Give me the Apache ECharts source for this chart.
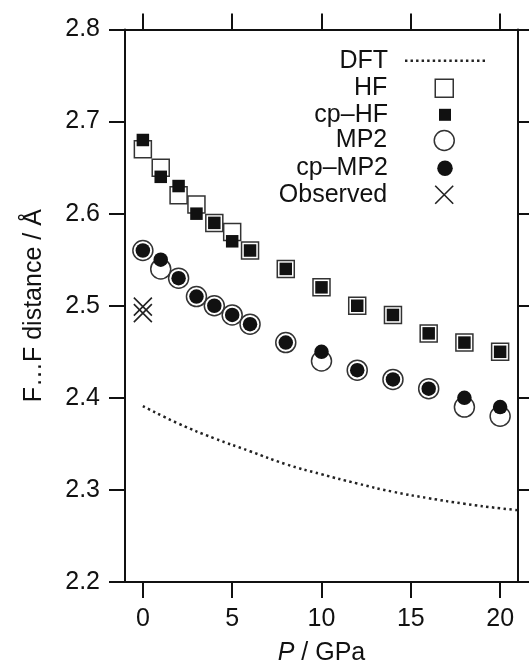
<!DOCTYPE html>
<html>
<head>
<meta charset="utf-8">
<script src="https://cdn.jsdelivr.net/npm/echarts@6/dist/echarts.min.js"></script>
<style>html,body{margin:0;padding:0;background:#fff;}#c{width:529px;height:671px;}</style>
</head>
<body>
<div id="c"></div>
<script>
// ---- data ----
const P = [0, 1, 2, 3, 4, 5, 6, 8, 10, 12, 14, 16, 18, 20];
const hf = [2.67, 2.65, 2.62, 2.61, 2.59, 2.58, 2.56, 2.54, 2.52, 2.50, 2.49, 2.47, 2.46, 2.45];
const cpHf = [2.68, 2.64, 2.63, 2.60, 2.59, 2.57, 2.56, 2.54, 2.52, 2.50, 2.49, 2.47, 2.46, 2.45];
const mp2 = [2.56, 2.54, 2.53, 2.51, 2.50, 2.49, 2.48, 2.46, 2.44, 2.43, 2.42, 2.41, 2.39, 2.38];
const cpMp2 = [2.56, 2.55, 2.53, 2.51, 2.50, 2.49, 2.48, 2.46, 2.45, 2.43, 2.42, 2.41, 2.40, 2.39];
const dftP = [0, 2, 4, 6, 8, 10, 12, 14, 16, 18, 20, 21];
const dft = [2.391, 2.372, 2.356, 2.342, 2.328, 2.317, 2.307, 2.298, 2.291, 2.285, 2.280, 2.278];
const obsP = [0, 0];
const obs = [2.499, 2.492];
const xTicks = [0, 5, 10, 15, 20];
const seriesNames = ['DFT', 'HF', 'cp\u2013HF', 'MP2', 'cp\u2013MP2', 'Observed'];

const pair = (xs, ys) => xs.map((x, i) => [x, ys[i]]);
const FONT = "'Liberation Sans', Arial, Helvetica, sans-serif";
const crossPath = 'path://M0,0L20,20M20,0L0,20';
let dots = '';
for (let x = 0; x < 80; x += 5.5) dots += 'M' + x + ',0h2.4v2.4h-2.4z';
const dotPath = 'path://' + dots;

const chart = echarts.init(document.getElementById('c'), null, {renderer: 'canvas'});

const axisCommon = {
  axisLine: {show: true, onZero: false, lineStyle: {color: '#111', width: 2}},
  axisTick: {show: true, inside: false, length: 16, lineStyle: {color: '#111', width: 2}},
  splitLine: {show: false}
};

// legend entries: [name, icon, iconBoxW, iconBoxH, centerY, itemStyle]
const legendCx = 445, textRight = 388;
const legendSpecs = [
  [seriesNames[0], dotPath, 80, 12, 59.3, {color: '#222', borderWidth: 0}],
  [seriesNames[1], 'rect', 18, 18, 86.7, {color: '#fff', borderColor: '#333', borderWidth: 1.5}],
  [seriesNames[2], 'rect', 12, 12, 113.3, {color: '#111', borderWidth: 0}],
  [seriesNames[3], 'circle', 20, 20, 139, {color: '#fff', borderColor: '#333', borderWidth: 1.5}],
  [seriesNames[4], 'circle', 15.5, 15.5, 166.7, {color: '#111', borderWidth: 0}],
  [seriesNames[5], crossPath, 18, 18, 193.3, {color: 'transparent', borderColor: '#222', borderWidth: 1.6}]
];
const legends = legendSpecs.map(([name, icon, w, h, cy, st]) => {
  const left = legendCx - w / 2;
  return {
    show: true,
    orient: 'horizontal',
    align: 'right',
    selectedMode: false,
    padding: 0,
    right: 529 - (legendCx + w / 2),
    top: cy - Math.max(h, 22) / 2,
    itemWidth: w,
    itemHeight: h,
    symbolKeepAspect: true,
    itemStyle: st,
    lineStyle: {width: 0},
    textStyle: {
      fontFamily: FONT, fontSize: 25, color: '#111', lineHeight: 12,
      padding: [0, left - 5 - textRight, 0, 0]
    },
    data: [{name: name, icon: icon}]
  };
});

const option = {
  backgroundColor: '#fff',
  animation: false,
  textStyle: {fontFamily: FONT},
  grid: {left: 125, right: 11, top: 29.5, bottom: 87, containLabel: false},
  legend: legends,
  xAxis: [
    Object.assign({}, axisCommon, {
      type: 'value', position: 'bottom', min: -1, max: 21,
      axisTick: Object.assign({}, axisCommon.axisTick, {customValues: xTicks}),
      axisLabel: {show: true, customValues: xTicks, margin: 25, fontSize: 25, color: '#111', fontFamily: FONT},
      name: '{i|P} / GPa',
      nameLocation: 'middle',
      nameGap: 59,
      nameTextStyle: {fontSize: 25, color: '#111', fontFamily: FONT,
        rich: {i: {fontStyle: 'italic', fontSize: 25, color: '#111', fontFamily: FONT}}}
    }),
    Object.assign({}, axisCommon, {
      type: 'value', position: 'top', min: -1, max: 21,
      axisTick: Object.assign({}, axisCommon.axisTick, {customValues: xTicks}),
      axisLabel: {show: false}
    })
  ],
  yAxis: [
    Object.assign({}, axisCommon, {
      type: 'value', position: 'left', min: 2.2, max: 2.8, interval: 0.1,
      axisLabel: {show: true, margin: 25, fontSize: 25, color: '#111', fontFamily: FONT,
        formatter: v => v.toFixed(1)},
      name: 'F\u2026F distance / \u00C5',
      nameLocation: 'middle',
      nameGap: 78,
      nameTextStyle: {fontSize: 25, color: '#111', fontFamily: FONT}
    }),
    Object.assign({}, axisCommon, {
      type: 'value', position: 'right', min: 2.2, max: 2.8, interval: 0.1,
      axisLabel: {show: false}
    })
  ],
  series: [
    {
      name: seriesNames[0], type: 'line', data: pair(dftP, dft), smooth: true,
      symbol: 'none', color: '#222',
      lineStyle: {color: '#222', width: 2.5, type: [2.4, 3.4]}, z: 1
    },
    {
      name: seriesNames[1], type: 'scatter', data: pair(P, hf), symbol: 'rect', symbolSize: 17,
      itemStyle: {color: '#fff', borderColor: '#333', borderWidth: 1.5, opacity: 1}, z: 2
    },
    {
      name: seriesNames[2], type: 'scatter', data: pair(P, cpHf), symbol: 'rect', symbolSize: 12.5,
      itemStyle: {color: '#111', opacity: 1}, z: 3
    },
    {
      name: seriesNames[3], type: 'scatter', data: pair(P, mp2), symbol: 'circle', symbolSize: 20,
      itemStyle: {color: '#fff', borderColor: '#333', borderWidth: 1.5, opacity: 1}, z: 2
    },
    {
      name: seriesNames[4], type: 'scatter', data: pair(P, cpMp2), symbol: 'circle', symbolSize: 14.5,
      itemStyle: {color: '#111', opacity: 1}, z: 3
    },
    {
      name: seriesNames[5], type: 'scatter', data: pair(obsP, obs), symbol: crossPath, symbolSize: 18,
      itemStyle: {color: 'transparent', borderColor: '#222', borderWidth: 1.6, opacity: 1}, z: 4
    }
  ]
};
chart.setOption(option);
</script>
</body>
</html>
